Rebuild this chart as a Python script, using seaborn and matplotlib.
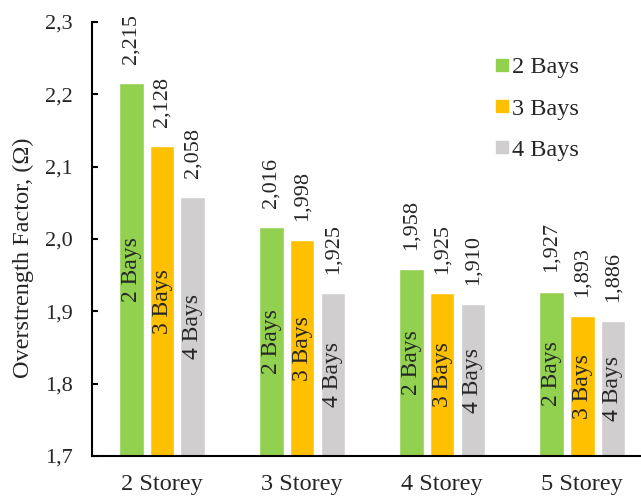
import matplotlib
matplotlib.use("Agg")
import matplotlib.pyplot as plt
import seaborn as sns
import pandas as pd
from matplotlib.lines import Line2D
from matplotlib.ticker import FuncFormatter

storeys = ["2 Storey", "3 Storey", "4 Storey", "5 Storey"]
bays = ["2 Bays", "3 Bays", "4 Bays"]
omega_2bays = [2.215, 2.016, 1.958, 1.927]
omega_3bays = [2.128, 1.998, 1.925, 1.893]
omega_4bays = [2.058, 1.925, 1.910, 1.886]
colors = ["#92D050", "#FFC000", "#D0CECE"]

df = pd.DataFrame({
    "Storey": storeys * 3,
    "Bays": [b for b in bays for _ in storeys],
    "Omega": omega_2bays + omega_3bays + omega_4bays,
})

sns.set_theme(style="white")
plt.rcParams["font.family"] = ["Liberation Serif", "DejaVu Serif"]
plt.rcParams["mathtext.fontset"] = "stix"

fig = plt.figure(figsize=(6.41, 4.97), dpi=100)
ax = fig.add_axes([0.1435, 0.0825, 0.8565, 0.8732])

sns.barplot(data=df, x="Storey", y="Omega", hue="Bays", order=storeys,
            hue_order=bays, palette=colors, width=0.66, gap=0.2,
            saturation=1, errorbar=None, legend=False, ax=ax)

comma = lambda v: f"{v:.3f}".replace(".", ",")
for cont, name in zip(ax.containers, bays):
    vals = [b.get_height() for b in cont]
    ax.bar_label(cont, labels=[comma(v) for v in vals], rotation=90,
                 padding=14, fontsize=16)
    ax.bar_label(cont, labels=[name] * len(vals), label_type="center",
                 rotation=90, fontsize=17)

ax.set_ylim(1.7, 2.3)
ax.set_yticks([1.7, 1.8, 1.9, 2.0, 2.1, 2.2, 2.3])
ax.yaxis.set_major_formatter(FuncFormatter(lambda v, p: f"{v:.1f}".replace(".", ",")))
ax.set_xlim(-0.5, 3.42)
ax.set_xlabel("")
ax.set_ylabel("Overstrength Factor, (Ω)", fontsize=17.5)
ax.yaxis.set_label_coords(-0.106, 0.456)
ax.tick_params(axis="y", left=True, direction="in", length=4.5, width=1.5,
               labelsize=16, pad=14, color="black")
ax.tick_params(axis="x", bottom=False, labelsize=17.5, pad=7)
for s in ["top", "right"]:
    ax.spines[s].set_visible(False)
for s in ["left", "bottom"]:
    ax.spines[s].set_color("black")
    ax.spines[s].set_linewidth(1.5)

handles = [Line2D([], [], marker="s", linestyle="", markersize=9,
                  markerfacecolor=c, markeredgecolor=c) for c in colors]
ax.legend(handles, bays, loc="upper left", bbox_to_anchor=(0.694, 0.972),
          frameon=False, fontsize=17.5, labelspacing=0.8, handletextpad=0.1,
          handlelength=0.6)

fig.savefig("out.png", dpi=100)
